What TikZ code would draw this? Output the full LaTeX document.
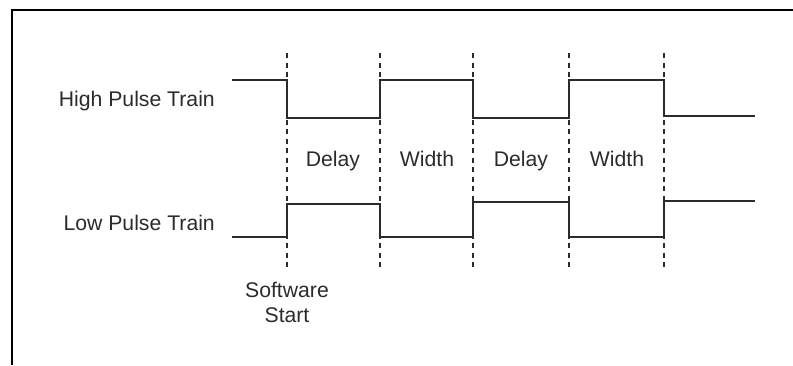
\documentclass[tikz,border=0pt]{standalone}
\usepackage{fontspec}
\setmainfont{Liberation Sans}
\definecolor{ink}{HTML}{2B2B2B}
\begin{document}
\begin{tikzpicture}[x=1pt,y=-1pt,
  wave/.style={draw=ink,line width=1.5pt},
  guide/.style={draw=ink,line width=1.3pt,dash pattern=on 5pt off 4.5pt},
  lbl/.style={text=ink,font=\fontsize{21.2}{25}\selectfont,inner sep=0pt,anchor=base},
  frame/.style={draw=black,line width=2.4pt}]
\useasboundingbox (0,0) rectangle (793,365);
% frame (open at right and bottom)
\draw[frame] (12,365) -- (12,10) -- (793,10);
% guides
\foreach \x/\n in {287/g1,380/g2,473/g3,569/g4,664/g5}{
  \coordinate (\n t) at (\x,53);
  \coordinate (\n b) at (\x,271);
  \draw[guide] (\n t) -- (\n b);
}
% high pulse train
\draw[wave] (232,80) -- (287,80) -- (287,118) -- (380,118) -- (380,80) -- (473,80)
  -- (473,118) -- (569,118) -- (569,80) -- (664,80) -- (664,116) -- (755,116);
% low pulse train
\draw[wave] (232,237) -- (287,237) -- (287,204) -- (380,204) -- (380,237) -- (473,237)
  -- (473,202) -- (569,202) -- (569,237) -- (664,237) -- (664,201) -- (755,201);
% labels
\node[lbl,anchor=base east] (hpt) at (215,106) {High Pulse Train};
\node[lbl,anchor=base east] (lpt) at (215,230) {Low Pulse Train};
\node[lbl] (d1) at (333,166.5) {Delay};
\node[lbl] (w1) at (427,166.5) {Width};
\node[lbl] (d2) at (521,166.5) {Delay};
\node[lbl] (w2) at (617,166.5) {Width};
\node[lbl] (ss1) at (287,297) {Software};
\node[lbl] (ss2) at (287,322) {Start};
\end{tikzpicture}
\end{document}
